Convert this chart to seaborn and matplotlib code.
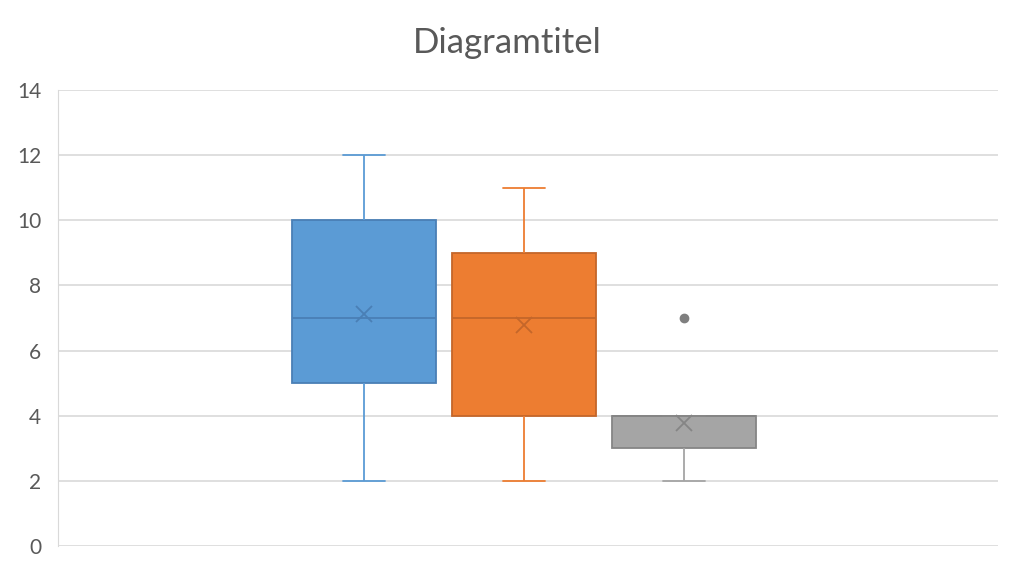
import seaborn as sns
import matplotlib.pyplot as plt
import pandas as pd

# raw values for the three series (one category, three boxes)
serie1 = [2, 4, 5, 6, 7, 8, 10, 10, 12]
serie2 = [2, 3, 4, 6, 7, 8, 9, 11, 11]
serie3 = [2, 3, 3, 3, 4, 4, 4, 4, 7]
series_names = ["Reihe1", "Reihe2", "Reihe3"]
y_ticks = [0, 2, 4, 6, 8, 10, 12, 14]

fills = ["#5B9BD5", "#ED7D31", "#A5A5A5"]
darks = ["#4A7FB5", "#C4662A", "#858585"]

df = pd.DataFrame({
    "kat": ["A"] * (len(serie1) + len(serie2) + len(serie3)),
    "wert": serie1 + serie2 + serie3,
    "reihe": [series_names[0]] * len(serie1) + [series_names[1]] * len(serie2) + [series_names[2]] * len(serie3),
})

sns.set_style("white")
plt.rcParams["font.family"] = ["Lato", "DejaVu Sans"]

fig = plt.figure(figsize=(10.15, 5.65), dpi=100)
ax = fig.add_axes([0.0571, 0.0336, 0.9262, 0.8071])

sns.boxplot(data=df, x="kat", y="wert", hue="reihe", palette=fills, width=0.51, gap=0.1,
            showmeans=True, linewidth=1.3, whis=1.5, legend=False, ax=ax,
            capwidths=0.045,
            meanprops=dict(marker="x", markersize=11, markeredgewidth=1.3),
            flierprops=dict(marker="o", markersize=6))

# recolor every part like Excel does
for cont, fc, dc in zip(ax.containers, fills, darks):
    for b in cont.boxes:
        b.set_facecolor(fc)
        b.set_edgecolor(dc)
    for ln in cont.whiskers + cont.caps:
        ln.set_color(fc)
    for ln in cont.medians:
        ln.set_color(dc)
    for ln in cont.means:
        ln.set_markeredgecolor(dc)
        ln.set_markerfacecolor(dc)
    for ln in cont.fliers:
        ln.set_markerfacecolor("#7F7F7F")
        ln.set_markeredgecolor("#7F7F7F")

ax.set_xlim(-0.4957, 0.5043)
ax.set_ylim(0, 14)
ax.set_yticks(y_ticks)
ax.set_xticks([])
ax.set_xlabel("")
ax.set_ylabel("")
ax.yaxis.grid(True, color="#D9D9D9", linewidth=1.2)
ax.set_axisbelow(True)
for s in ["top", "right", "bottom"]:
    ax.spines[s].set_visible(False)
ax.spines["left"].set_color("#D9D9D9")
ax.tick_params(axis="y", length=0, labelsize=15, labelcolor="#595959", pad=12)

fig.text(0.5, 0.906, "Diagramtitel", ha="center", va="baseline", fontsize=25, color="#595959")

fig.savefig("out.png", dpi=100)
